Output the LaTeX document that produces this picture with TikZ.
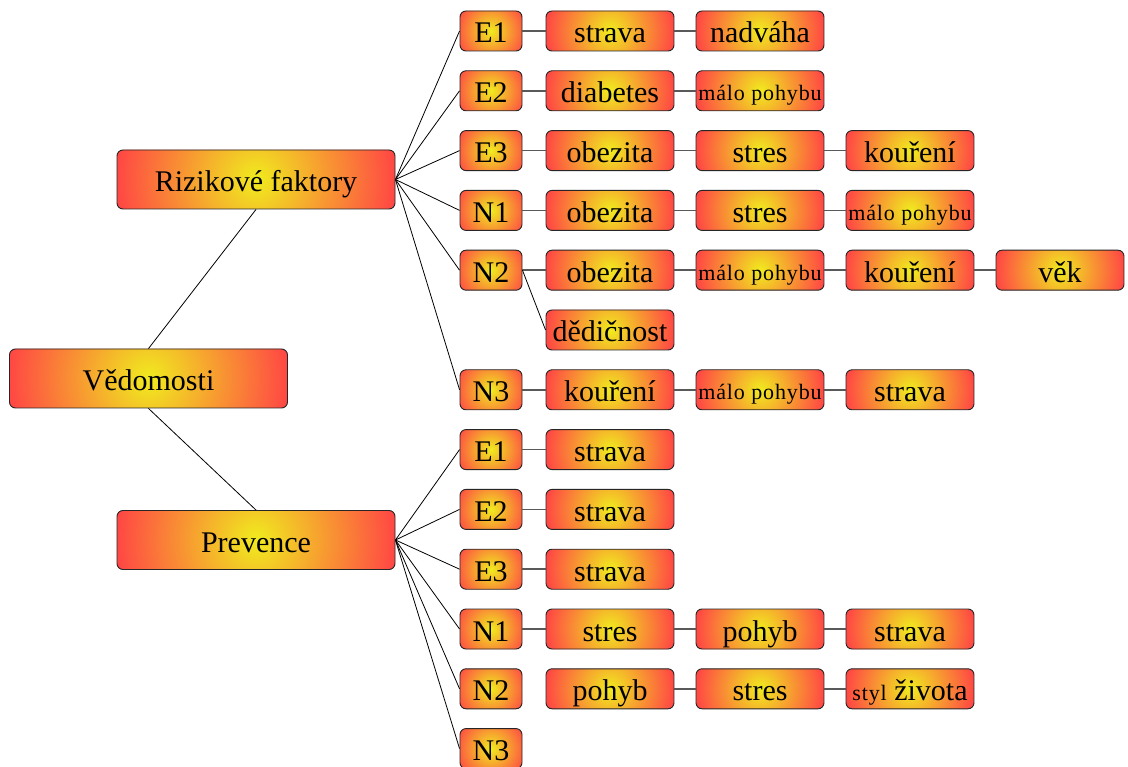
\documentclass[tikz,border=0pt]{standalone}
\usepackage{fontspec}
\setmainfont{Liberation Serif}
\newfontfamily\boxfont{Liberation Serif}
\newfontfamily\smallboxfont[LetterSpace=4]{Liberation Serif}
\definecolor{centercol}{RGB}{240,236,30}
\definecolor{edgecol}{RGB}{255,72,68}
\begin{document}
\begin{tikzpicture}[x=1pt,y=-1pt,
  base/.style={draw=black!85, line width=0.9pt, rounded corners=6pt, inner sep=0pt,
    font=\boxfont\fontsize{30}{30}\selectfont, text height=25pt, text depth=1pt, align=center},
  % circular yellow-to-red fill, clipped to the box outline
  glow/.style={path picture={
    \fill[edgecol] (path picture bounding box.south west) rectangle (path picture bounding box.north east);
    \shade[inner color=centercol, outer color=edgecol] (path picture bounding box.center) circle[radius=#1];}},
  bigbox/.style={base, minimum width=278pt, minimum height=59pt, glow=139pt},
  keybox/.style={base, minimum width=62pt, minimum height=40pt, glow=37pt},
  itembox/.style={base, minimum width=128pt, minimum height=40pt, glow=64pt},
  small/.style={font=\smallboxfont\fontsize{22}{22}\selectfont, text height=21pt, text depth=1pt},
  fan/.style={draw=black, line width=0.8pt},
  link/.style={draw=black!65, line width=1.6pt}
]
\fill[white] (0,0) rectangle (1128,767);
\useasboundingbox (0,0) rectangle (1128,767);

% main branches
\node[bigbox] (ved) at (148.5,378.5) {Vědomosti};
\node[bigbox] (riz) at (256,179.5) {Rizikové faktory};
\node[bigbox] (pre) at (256,540) {Prevence};

% risk factors
\node[keybox]  (rE1) at (491,31) {E1};
\node[itembox] (rE1a) at (610,31) {strava};
\node[itembox] (rE1b) at (760,31) {nadváha};

\node[keybox]  (rE2) at (491,90.8) {E2};
\node[itembox] (rE2a) at (610,90.8) {diabetes};
\node[itembox,small] (rE2b) at (760,90.8) {málo pohybu};

\node[keybox]  (rE3) at (491,150.6) {E3};
\node[itembox] (rE3a) at (610,150.6) {obezita};
\node[itembox] (rE3b) at (760,150.6) {stres};
\node[itembox] (rE3c) at (910,150.6) {kouření};

\node[keybox]  (rN1) at (491,210.4) {N1};
\node[itembox] (rN1a) at (610,210.4) {obezita};
\node[itembox] (rN1b) at (760,210.4) {stres};
\node[itembox,small] (rN1c) at (910,210.4) {málo pohybu};

\node[keybox]  (rN2) at (491,270.2) {N2};
\node[itembox] (rN2a) at (610,270.2) {obezita};
\node[itembox,small] (rN2b) at (760,270.2) {málo pohybu};
\node[itembox] (rN2c) at (910,270.2) {kouření};
\node[itembox] (rN2d) at (1060,270.2) {věk};
\node[itembox] (rN2e) at (610,330) {dědičnost};

\node[keybox]  (rN3) at (491,389.8) {N3};
\node[itembox] (rN3a) at (610,389.8) {kouření};
\node[itembox,small] (rN3b) at (760,389.8) {málo pohybu};
\node[itembox] (rN3c) at (910,389.8) {strava};

% prevention
\node[keybox]  (pE1) at (491,449.6) {E1};
\node[itembox] (pE1a) at (610,449.6) {strava};

\node[keybox]  (pE2) at (491,509.4) {E2};
\node[itembox] (pE2a) at (610,509.4) {strava};

\node[keybox]  (pE3) at (491,569.2) {E3};
\node[itembox] (pE3a) at (610,569.2) {strava};

\node[keybox]  (pN1) at (491,629) {N1};
\node[itembox] (pN1a) at (610,629) {stres};
\node[itembox] (pN1b) at (760,629) {pohyb};
\node[itembox] (pN1c) at (910,629) {strava};

\node[keybox]  (pN2) at (491,688.8) {N2};
\node[itembox] (pN2a) at (610,688.8) {pohyb};
\node[itembox] (pN2b) at (760,688.8) {stres};
\node[itembox] (pN2c) at (910,688.8) {{\smallboxfont\fontsize{22}{22}\selectfont styl} života};

\node[keybox]  (pN3) at (491,748.6) {N3};

% trunk
\draw[fan] (ved.north) -- (riz.south);
\draw[fan] (ved.south) -- (pre.north);

% fans to the keys
\foreach \k in {rE1,rE2,rE3,rN1,rN2,rN3}
  \draw[fan] (riz.east) -- (\k.west);
\foreach \k in {pE1,pE2,pE3,pN1,pN2,pN3}
  \draw[fan] (pre.east) -- (\k.west);

% chains
\draw[link] (rE1) -- (rE1a) -- (rE1b);
\draw[link] (rE2) -- (rE2a) -- (rE2b);
\draw[link] (rE3) -- (rE3a) -- (rE3b) -- (rE3c);
\draw[link] (rN1) -- (rN1a) -- (rN1b) -- (rN1c);
\draw[link] (rN2) -- (rN2a) -- (rN2b) -- (rN2c) -- (rN2d);
\draw[fan] (rN2.east) -- (rN2e.west);
\draw[link] (rN3) -- (rN3a) -- (rN3b) -- (rN3c);
\draw[link] (pE1) -- (pE1a);
\draw[link] (pE2) -- (pE2a);
\draw[link] (pE3) -- (pE3a);
\draw[link] (pN1) -- (pN1a) -- (pN1b) -- (pN1c);
\draw[link] (pN2a) -- (pN2b) -- (pN2c);
\end{tikzpicture}
\end{document}
